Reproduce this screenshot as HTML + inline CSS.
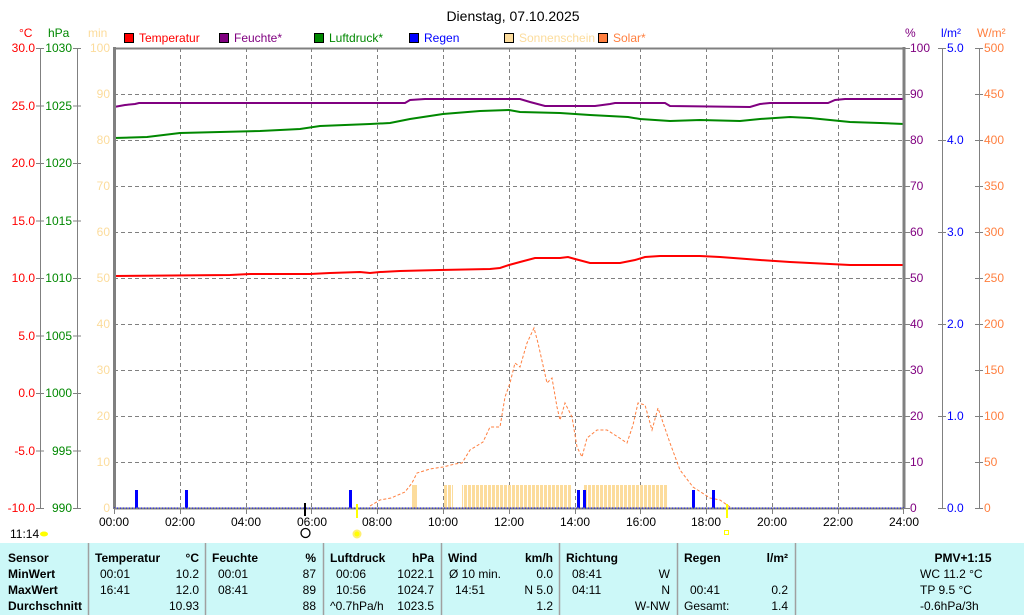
<!DOCTYPE html>
<html><head><meta charset="utf-8"><style>
body{margin:0;background:#fff;}
svg{display:block;font-family:"Liberation Sans",sans-serif;}
</style></head><body>
<svg width="1024" height="615" viewBox="0 0 1024 615" xmlns="http://www.w3.org/2000/svg">
<rect width="1024" height="615" fill="#fff"/>
<text x="513" y="21" font-size="14" text-anchor="middle" fill="#000">Dienstag, 07.10.2025</text>
<g font-size="12">
<text x="19" y="37" fill="#f00">°C</text>
<text x="48" y="37" fill="#080">hPa</text>
<text x="88" y="37" fill="#fcdc9c">min</text>
<text x="905" y="37" fill="#800080">%</text>
<text x="941" y="37" fill="#00f">l/m²</text>
<text x="977" y="37" fill="#ff7f3f">W/m²</text>
</g>
<g font-size="12">
<rect x="124.5" y="33.5" width="9" height="9" fill="#f00" stroke="#000"/><text x="139" y="42" fill="#f00">Temperatur</text>
<rect x="219.5" y="33.5" width="9" height="9" fill="#800080" stroke="#000"/><text x="234" y="42" fill="#800080">Feuchte*</text>
<rect x="314.5" y="33.5" width="9" height="9" fill="#080" stroke="#000"/><text x="329" y="42" fill="#080">Luftdruck*</text>
<rect x="409.5" y="33.5" width="9" height="9" fill="#00f" stroke="#000"/><text x="424" y="42" fill="#00f">Regen</text>
<rect x="504.5" y="33.5" width="9" height="9" fill="#fcdc9c" stroke="#000"/><text x="519" y="42" fill="#fcdc9c">Sonnenschein</text>
<rect x="598.5" y="33.5" width="9" height="9" fill="#ff7f3f" stroke="#000"/><text x="613" y="42" fill="#ff7f3f">Solar*</text>
</g>
<g stroke="#808080" stroke-dasharray="4,3" stroke-width="1">
<path d="M114 94.5H904M114 140.5H904M114 186.5H904M114 232.5H904M114 278.5H904M114 324.5H904M114 370.5H904M114 416.5H904M114 462.5H904"/>
<path d="M180.5 48V508M246.5 48V508M311.5 48V508M377.5 48V508M443.5 48V508M509.5 48V508M575.5 48V508M640.5 48V508M706.5 48V508M772.5 48V508M838.5 48V508"/>
</g>
<g stroke="#808080" stroke-width="1">
<path d="M40.5 48V508M77.5 48V508M942.5 48V508M979.5 48V508"/>
<path d="M36 48.5H44M36 106H44M36 163.5H44M36 221H44M36 278.5H44M36 336H44M36 393.5H44M36 451H44M36 508.5H44"/>
<path d="M73 48.5H81M73 106H81M73 163.5H81M73 221H81M73 278.5H81M73 336H81M73 393.5H81M73 451H81M73 508.5H81"/>
<path d="M938 48.5H946M938 140.5H946M938 232.5H946M938 324.5H946M938 416.5H946M938 508.5H946"/>
<path d="M975 48.5H983M975 94.5H983M975 140.5H983M975 186.5H983M975 232.5H983M975 278.5H983M975 324.5H983M975 370.5H983M975 416.5H983M975 462.5H983M975 508.5H983"/>
<path d="M904 48.5H910M904 94.5H910M904 140.5H910M904 186.5H910M904 232.5H910M904 278.5H910M904 324.5H910M904 370.5H910M904 416.5H910M904 462.5H910M904 508.5H910"/>
</g>
<g font-size="12" text-anchor="end" fill="#f00">
<text x="35" y="52">30.0</text><text x="35" y="110">25.0</text><text x="35" y="167">20.0</text><text x="35" y="225">15.0</text><text x="35" y="282">10.0</text><text x="35" y="340">5.0</text><text x="35" y="397">0.0</text><text x="35" y="455">-5.0</text><text x="35" y="512">-10.0</text>
</g>
<g font-size="12" text-anchor="end" fill="#080">
<text x="72" y="52">1030</text><text x="72" y="110">1025</text><text x="72" y="167">1020</text><text x="72" y="225">1015</text><text x="72" y="282">1010</text><text x="72" y="340">1005</text><text x="72" y="397">1000</text><text x="72" y="455">995</text><text x="72" y="512">990</text>
</g>
<g font-size="12" text-anchor="end" fill="#fcdc9c">
<text x="110" y="52">100</text><text x="110" y="98">90</text><text x="110" y="144">80</text><text x="110" y="190">70</text><text x="110" y="236">60</text><text x="110" y="282">50</text><text x="110" y="328">40</text><text x="110" y="374">30</text><text x="110" y="420">20</text><text x="110" y="466">10</text><text x="110" y="512">0</text>
</g>
<g font-size="12" fill="#800080">
<text x="910" y="52">100</text><text x="910" y="98">90</text><text x="910" y="144">80</text><text x="910" y="190">70</text><text x="910" y="236">60</text><text x="910" y="282">50</text><text x="910" y="328">40</text><text x="910" y="374">30</text><text x="910" y="420">20</text><text x="910" y="466">10</text><text x="910" y="512">0</text>
</g>
<g font-size="12" fill="#00f">
<text x="947" y="52">5.0</text><text x="947" y="144">4.0</text><text x="947" y="236">3.0</text><text x="947" y="328">2.0</text><text x="947" y="420">1.0</text><text x="947" y="512">0.0</text>
</g>
<g font-size="12" fill="#ff7f3f">
<text x="984" y="52">500</text><text x="984" y="98">450</text><text x="984" y="144">400</text><text x="984" y="190">350</text><text x="984" y="236">300</text><text x="984" y="282">250</text><text x="984" y="328">200</text><text x="984" y="374">150</text><text x="984" y="420">100</text><text x="984" y="466">50</text><text x="984" y="512">0</text>
</g>
<defs><pattern id="st" x="0" y="0" width="4" height="30" patternUnits="userSpaceOnUse"><rect width="3" height="30" fill="#fcdc9c"/></pattern></defs>
<rect x="412" y="485" width="5" height="23" fill="#fcdc9c"/>
<rect x="443" y="485" width="10" height="23" fill="url(#st)"/>
<rect x="462" y="485" width="110" height="23" fill="url(#st)"/>
<rect x="583" y="485" width="84" height="23" fill="url(#st)"/>
<polyline fill="none" stroke="#ff7f3f" stroke-width="1" stroke-dasharray="3,2" points="370,506 380,500 391,498 405,492 412,483 417,473 430,469 443,467 455,464 462,463 470,450 483,442 490,427 500,427 505,397 510,383 515,363 520,367 527,343 534,328 538,343 547,383 552,378 557,407 560,420 565,403 572,417 577,447 582,457 587,438 597,430 607,430 618,437 627,443 633,425 638,403 645,405 652,430 658,408 670,443 680,470 693,487 710,498 720,500 730,507"/>
<polyline fill="none" stroke="#080" stroke-width="2" points="114,138 147,137 180,133 260,131 300,129 320,126 345,125 370,124 390,123 410,119 443,114 480,111 509,110 520,112 560,113 590,115 628,117 640,119 670,121 700,120 740,121 760,119 790,117 810,118 830,120 850,122 880,123 904,124"/>
<polyline fill="none" stroke="#800080" stroke-width="2" points="114,107 125,105 135,104 139,103 405,103 410,100 425,99 520,99 530,102 545,106 595,106 610,104 615,103 665,103 670,106 750,107 760,104 770,103 828,103 835,100 845,99 904,99"/>
<polyline fill="none" stroke="#f00" stroke-width="2" points="114,276 230,275 250,274 310,274 330,273 360,272 370,273 380,272 400,271 440,270 490,269 500,268 509,265 520,262 535,258 560,258 568,257 575,259 590,263 620,263 635,260 645,257 660,256 700,256 720,257 760,260 790,262 830,264 850,265 904,265"/>
<g fill="#00f">
<rect x="135" y="490" width="3" height="18"/><rect x="185" y="490" width="3" height="18"/><rect x="349" y="490" width="3" height="18"/><rect x="577" y="490" width="3" height="18"/><rect x="583" y="490" width="3" height="18"/><rect x="692" y="490" width="3" height="18"/><rect x="712" y="490" width="3" height="18"/>
</g>
<path d="M114 48.5H904" stroke="#808080" stroke-width="2"/>
<path d="M114.5 47V509" stroke="#808080" stroke-width="3"/>
<path d="M904 47V509" stroke="#808080" stroke-width="3"/>
<path d="M114 508.5H904" stroke="#808080" stroke-width="2"/>
<path d="M114 508H904" stroke="#00f" stroke-width="1" stroke-dasharray="1,2"/>
<g stroke="#808080"><path d="M114.5 508V514M180.5 508V514M246.5 508V514M311.5 508V514M377.5 508V514M443.5 508V514M509.5 508V514M575.5 508V514M640.5 508V514M706.5 508V514M772.5 508V514M838.5 508V514M903.5 508V514"/></g>
<g font-size="12" text-anchor="middle" fill="#000">
<text x="114" y="526">00:00</text><text x="180" y="526">02:00</text><text x="246" y="526">04:00</text><text x="312" y="526">06:00</text><text x="377" y="526">08:00</text><text x="443" y="526">10:00</text><text x="509" y="526">12:00</text><text x="575" y="526">14:00</text><text x="641" y="526">16:00</text><text x="706" y="526">18:00</text><text x="772" y="526">20:00</text><text x="838" y="526">22:00</text><text x="904" y="526">24:00</text>
</g>
<rect x="304" y="503" width="2" height="13" fill="#000"/>
<rect x="356" y="504" width="2" height="14" fill="#ff0"/>
<rect x="726" y="504" width="2" height="14" fill="#ff0"/>
<circle cx="305.5" cy="533" r="4.5" fill="#fff" stroke="#000" stroke-width="1.3"/>
<circle cx="357" cy="534" r="3.5" fill="#ff0" stroke="#ffef70" stroke-width="2"/>
<rect x="724.5" y="530.5" width="4" height="4" fill="none" stroke="#ff0"/>
<text x="10" y="538" font-size="12" fill="#000">11:14</text>
<ellipse cx="44" cy="534" rx="4" ry="2.5" fill="#ff0"/>
<rect x="0" y="543" width="1024" height="72" fill="#ccf8f8"/>
<g stroke="#a0a0a0" stroke-width="1.5"><path d="M88.5 543V615M205.5 543V615M323.5 543V615M441.5 543V615M559.5 543V615M677.5 543V615M795.5 543V615"/></g>
<g font-size="12" fill="#000">
<g font-weight="bold">
<text x="8" y="562">Sensor</text><text x="8" y="578">MinWert</text><text x="8" y="594">MaxWert</text><text x="8" y="610">Durchschnitt</text>
<text x="95" y="562">Temperatur</text><text x="199" y="562" text-anchor="end">°C</text>
<text x="212" y="562">Feuchte</text><text x="316" y="562" text-anchor="end">%</text>
<text x="330" y="562">Luftdruck</text><text x="434" y="562" text-anchor="end">hPa</text>
<text x="448" y="562">Wind</text><text x="553" y="562" text-anchor="end">km/h</text>
<text x="566" y="562">Richtung</text>
<text x="684" y="562">Regen</text><text x="788" y="562" text-anchor="end">l/m²</text>
<text x="963" y="562" text-anchor="middle">PMV+1:15</text>
</g>
<text x="100" y="578">00:01</text><text x="199" y="578" text-anchor="end">10.2</text>
<text x="100" y="594">16:41</text><text x="199" y="594" text-anchor="end">12.0</text>
<text x="199" y="610" text-anchor="end">10.93</text>
<text x="218" y="578">00:01</text><text x="316" y="578" text-anchor="end">87</text>
<text x="218" y="594">08:41</text><text x="316" y="594" text-anchor="end">89</text>
<text x="316" y="610" text-anchor="end">88</text>
<text x="336" y="578">00:06</text><text x="434" y="578" text-anchor="end">1022.1</text>
<text x="336" y="594">10:56</text><text x="434" y="594" text-anchor="end">1024.7</text>
<text x="330" y="610">^0.7hPa/h</text><text x="434" y="610" text-anchor="end">1023.5</text>
<text x="449" y="578">Ø 10 min.</text><text x="553" y="578" text-anchor="end">0.0</text>
<text x="455" y="594">14:51</text><text x="553" y="594" text-anchor="end">N 5.0</text>
<text x="553" y="610" text-anchor="end">1.2</text>
<text x="572" y="578">08:41</text><text x="670" y="578" text-anchor="end">W</text>
<text x="572" y="594">04:11</text><text x="670" y="594" text-anchor="end">N</text>
<text x="670" y="610" text-anchor="end">W-NW</text>
<text x="690" y="594">00:41</text><text x="788" y="594" text-anchor="end">0.2</text>
<text x="684" y="610">Gesamt:</text><text x="788" y="610" text-anchor="end">1.4</text>
<text x="920" y="578">WC 11.2 °C</text>
<text x="920" y="594">TP 9.5 °C</text>
<text x="920" y="610">-0.6hPa/3h</text>
</g>
</svg>
</body></html>
